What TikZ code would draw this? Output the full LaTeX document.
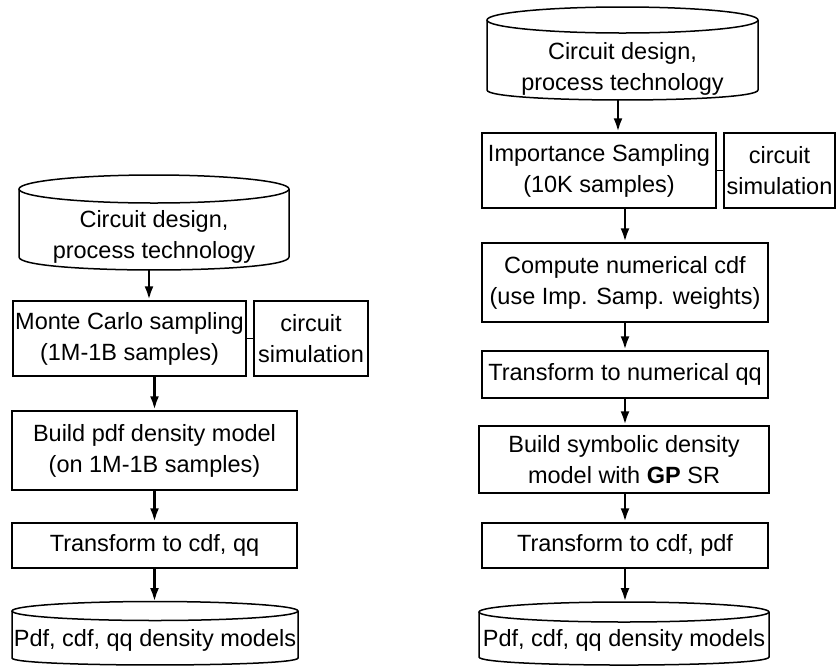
\documentclass[tikz,border=0pt]{standalone}
\usepackage{fontspec}
\setmainfont{Liberation Sans}
\usetikzlibrary{arrows.meta}
\begin{document}
\begin{tikzpicture}[x=1pt,y=-1pt,
  txt/.style={inner sep=0pt, align=center, font=\fontsize{23.5}{31}\selectfont},
  box/.style={txt, draw, line width=1.5pt},
  cyl/.style={draw, line width=1.5pt},
  arr/.style={line width=2.8pt, -{Latex[length=14pt,width=9pt]}},
  link/.style={line width=1.5pt}]
\useasboundingbox (0,0) rectangle (836,665);

% ---------------- Left column ----------------
% top cylinder
\draw[cyl] (19,189) -- (19,257) .. controls (19,274.3) and (289,274.3) .. (289,257) -- (289,189);
\draw[cyl] (154,189) ellipse [x radius=135, y radius=14];
\node[txt] (lcyl) at (154,237) {Circuit design,\\process technology};
\coordinate (lcylb) at (149,270);

\node[box, minimum width=233pt, minimum height=75pt] (mc) at (129.5,338.5) {Monte Carlo sampling\\(1M-1B samples)};
\node[box, minimum width=114pt, minimum height=75pt] (lsim) at (311,338.5) {circuit\\simulation};
\node[box, minimum width=285pt, minimum height=79pt] (bp) at (154.5,450.5) {Build pdf density model\\(on 1M-1B samples)};
\node[box, minimum width=285pt, minimum height=45pt] (ltr) at (154.5,545.5) {Transform to cdf, qq};

% bottom cylinder
\draw[cyl] (12,611) -- (12,658) .. controls (12,667.3) and (298,667.3) .. (298,658) -- (298,611);
\draw[cyl] (155,611) ellipse [x radius=143, y radius=9.5];
\node[txt] (lout) at (155,640) {Pdf, cdf, qq density models};
\coordinate (lcylt) at (154.5,602);

\draw[arr] (lcylb) -- (lcylb |- mc.north);
\draw[link] (mc.east) -- (lsim.west);
\draw[arr] (mc.south -| bp.north) -- (bp.north);
\draw[arr] (bp.south) -- (ltr.north);
\draw[arr] (ltr.south) -- (lcylt);

% ---------------- Right column ----------------
\draw[cyl] (487,20) -- (487,90) .. controls (487,103.3) and (758,103.3) .. (758,90) -- (758,20);
\draw[cyl] (622.5,20) ellipse [x radius=135.5, y radius=13];
\node[txt] (rcyl) at (622.5,69) {Circuit design,\\process technology};
\coordinate (rcylb) at (618,100);

\node[box, minimum width=234pt, minimum height=75pt] (is) at (599,170.5) {Importance Sampling\\(10K samples)};
\node[box, minimum width=111pt, minimum height=75pt] (rsim) at (779.5,170.5) {circuit\\simulation};
\node[box, minimum width=286pt, minimum height=79pt] (cn) at (625,282.5) {Compute numerical cdf\\(use Imp. Samp. weights)};
\node[box, minimum width=286pt, minimum height=47pt] (tq) at (625,374.5) {Transform to numerical qq};
\node[box, minimum width=290pt, minimum height=67pt] (bs) at (624,459.5) {Build symbolic density\\model with \textbf{GP} SR};
\node[box, minimum width=286pt, minimum height=45pt] (rtr) at (625,545.5) {Transform to cdf, pdf};

\draw[cyl] (479,612) -- (479,657) .. controls (479,667.7) and (769,667.7) .. (769,657) -- (769,612);
\draw[cyl] (624,612) ellipse [x radius=145, y radius=10];
\node[txt] (rout) at (624,640) {Pdf, cdf, qq density models};
\coordinate (rcylt) at (625,602);

\draw[arr] (rcylb) -- (rcylb |- is.north);
\draw[link] (is.east) -- (rsim.west);
\draw[arr] (is.south -| cn.north) -- (cn.north);
\draw[arr] (cn.south) -- (tq.north);
\draw[arr] (tq.south) -- (bs.north -| tq.south);
\draw[arr] (bs.south -| rtr.north) -- (rtr.north);
\draw[arr] (rtr.south) -- (rcylt);
\end{tikzpicture}
\end{document}
